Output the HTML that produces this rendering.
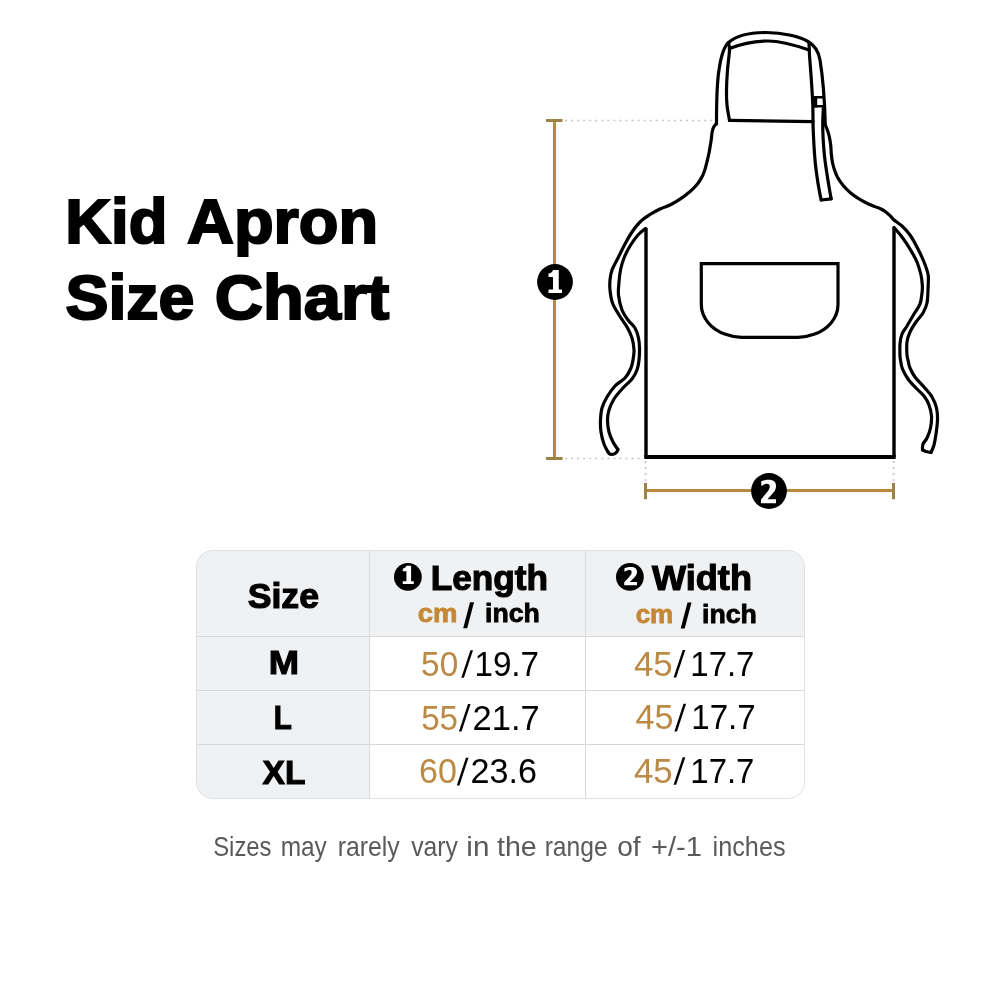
<!DOCTYPE html>
<html>
<head>
<meta charset="utf-8">
<title>Kid Apron Size Chart</title>
<style>
  html, body { margin: 0; padding: 0; background: #ffffff; }
  body { width: 1000px; height: 1000px; overflow: hidden; font-family: "Liberation Sans", sans-serif; }
  svg { display: block; position: absolute; left: 0; top: 0; will-change: transform; }
  text { font-family: "Liberation Sans", sans-serif; }
  .b { font-weight: bold; }
  .gold { fill: #b7893f; }
</style>
</head>
<body>
<svg width="1000" height="1000" viewBox="0 0 1000 1000">
  <rect width="1000" height="1000" fill="#ffffff"/>

  <!-- ===== Title ===== -->
  <g id="title" fill="#000" class="b">
      <text x="65.32" y="243.36" font-size="63.3" stroke="#000" stroke-width="2.08" stroke-linejoin="miter" textLength="102.07" lengthAdjust="spacingAndGlyphs">Kid</text>
      <text x="187" y="243.36" font-size="63.3" stroke="#000" stroke-width="2.08" stroke-linejoin="miter" textLength="191.21" lengthAdjust="spacingAndGlyphs">Apron</text>
      <text x="65.41" y="319.36" font-size="63.3" stroke="#000" stroke-width="2.08" stroke-linejoin="miter" textLength="128.95" lengthAdjust="spacingAndGlyphs">Size</text>
      <text x="214.81" y="319.36" font-size="63.3" stroke="#000" stroke-width="2.08" stroke-linejoin="miter" textLength="174.43" lengthAdjust="spacingAndGlyphs">Chart</text>
  </g>

  <!-- ===== Measurement guides ===== -->
  <g id="guides" fill="none">
    <g stroke="#c6c6cb" stroke-width="1.7" stroke-dasharray="2 4.05">
      <path d="M565 120.5 H713"/>
      <path d="M565 458.5 H643"/>
      <path d="M645.5 461 V483"/>
      <path d="M893.5 461 V483"/>
    </g>
    <g stroke="#b7893f" stroke-width="3">
      <path d="M554.5 120 V458"/>
      <path d="M546 120.5 H562.5" stroke="#9c8246"/>
      <path d="M546 458.5 H562.5" stroke="#9c8246"/>
      <path d="M645.5 490.5 H893.5" stroke-width="2.8"/>
      <path d="M645.5 483 V499.2" stroke="#9c8246"/>
      <path d="M893.5 483 V499.2" stroke="#9c8246"/>
    </g>
  </g>

  <!-- ===== Apron drawing ===== -->
  <g id="apron" fill="none" stroke="#000" stroke-width="3.2" stroke-linejoin="round" stroke-linecap="round">
    <path d="M716.5 124 C716.5 100 717 82 719 70 C721 56 723.5 47 728.5 42.5 C736 36 750 32.5 766 32.5 C784 32.5 800 37 808 41.5 C815 45.5 818.5 51 820 60 C822.5 75 824.5 95 825.3 125"/>
    <path d="M729.5 120.5 C729.1 117.9 727.5 110.1 727 105 C726.5 99.9 726.4 95.8 726.5 90 C726.6 84.2 727 76.7 727.5 70 C728 63.3 729.3 54.6 729.5 50 C729.7 45.4 728.7 43.8 728.5 42.5"/>
    <path d="M729.5 48.5 C742 43.5 754 41 768 41 C782 41 796 45.5 809 50"/>
    <path d="M809 43 C809.1 45 809.2 49.7 809.5 55 C809.8 60.3 810.6 69.2 811 75 C811.4 80.8 811.7 85 812 90 C812.3 95 812.6 100 812.8 105 C813 110 812.9 115.8 813 120 C813.1 124.2 813 125.7 813.2 130 C813.4 134.3 813.7 140.7 814 146 C814.3 151.3 814.7 156.7 815.2 162 C815.7 167.3 816.5 172.9 817.2 178 C817.9 183.1 818.9 188.7 819.6 192.4 C820.3 196.1 820.9 198.7 821.2 200"/>
    <path d="M823.4 108 C823.3 110 822.9 116.3 822.8 120 C822.7 123.7 822.7 125.7 822.8 130 C822.9 134.3 823.2 140.7 823.6 146 C824 151.3 824.5 156.7 825.2 162 C825.9 167.3 826.8 172.9 827.6 178 C828.4 183.1 829.4 188.9 830 192.4 C830.6 195.9 831 197.7 831.2 198.8"/>
    <path d="M821.2 200 L831.2 198.8"/>
    <path d="M729.5 120.4 L813 121.6"/>
    <!-- buckle -->
    <path d="M814.5 97.3 H823.6 M814.5 106.3 H823.8" stroke-width="2.4" stroke-linecap="butt"/>
    <path d="M815.4 96.1 V107.5" stroke-width="3.6" stroke-linecap="butt"/>
    <path d="M716.4 123.5 C715.9 124.1 714.3 125.7 713.6 127.2 C712.9 128.8 712.4 130.7 712 132.8 C711.6 134.9 711.7 136.8 711.2 140 C710.7 143.2 709.9 148.3 709.2 152 C708.5 155.7 707.6 159.2 706.8 162.4 C706 165.6 705.3 168.7 704.4 171.2 C703.5 173.7 702.9 175.3 701.6 177.6 C700.3 179.9 698.7 182.5 696.8 184.8 C694.9 187.1 693.2 188.8 690.4 191.2 C687.6 193.6 683.4 196.9 680 199.2 C676.6 201.5 673.3 203.4 670 205 C666.7 206.6 663.3 207.4 660 209 C656.7 210.6 653.3 212.3 650 214.5 C646.7 216.7 643 219.1 640 222 C637 224.9 634.5 228.3 632 232 C629.5 235.7 627.3 239.7 625 244 C622.7 248.3 620.2 253.7 618 258 C615.8 262.3 613.3 266.3 612 270 C610.7 273.7 610.3 276.7 610 280 C609.7 283.3 609.6 286.2 610 290 C610.4 293.8 611 298.8 612.5 303 C614 307.2 616.6 311 619 315 C621.4 319 624.8 323.2 627 327 C629.2 330.8 630.8 334.2 632 338 C633.2 341.8 633.8 346.3 634 350 C634.2 353.7 633.5 357 633 360 C632.5 363 632.3 365 631 368 C629.7 371 627.7 375 625 378 C622.3 381 618 382.8 615 386 C612 389.2 609.2 393.3 607 397 C604.8 400.7 603.1 404.2 602 408 C600.9 411.8 600.7 416 600.5 420 C600.3 424 600.4 428 601 432 C601.6 436 602.8 440.7 604 444 C605.2 447.3 607.3 450.7 608 452"/>
    <path d="M645.5 228.5 C644.2 229.6 640.6 232.1 638 235 C635.4 237.9 632.3 242.2 630 246 C627.7 249.8 625.6 254 624 258 C622.4 262 621.3 266 620.5 270 C619.7 274 619.3 277.8 619 282 C618.7 286.2 618 290.3 618.5 295 C619 299.7 620.4 305.8 622 310 C623.6 314.2 625.8 317 628 320 C630.2 323 633.2 325 635 328 C636.8 331 637.8 334.7 638.5 338 C639.2 341.3 639.4 344.3 639.5 348 C639.6 351.7 639.4 356.3 639 360 C638.6 363.7 638.2 366.8 637 370 C635.8 373.2 634.3 376 632 379 C629.7 382 626 384.7 623 388 C620 391.3 616.3 395.3 614 399 C611.7 402.7 610.1 406.5 609 410 C607.9 413.5 607.5 416.3 607.5 420 C607.5 423.7 608.1 428.3 609 432 C609.9 435.7 611.6 439.2 613 442 C614.4 444.8 616.8 447.8 617.5 449"/>
    <path d="M608 452 C608.2 452.3 608.9 453.4 609.5 453.8 C610.1 454.2 610.8 454.3 611.5 454.3 C612.2 454.3 613.2 454.3 614 454 C614.8 453.7 615.8 453.1 616.5 452.3 C617.2 451.6 617.8 450.1 618 449.5 C618.2 448.9 617.6 449.1 617.5 449"/>
    <path d="M825.3 125 C825.6 125.8 826.5 127.5 827.2 129.5 C827.9 131.5 828.8 134.2 829.4 137 C830 139.8 830.5 143.2 830.8 146 C831.1 148.8 831 151.3 831.3 154 C831.6 156.7 831.9 159.3 832.4 162 C832.9 164.7 833.6 167.4 834.5 170 C835.4 172.6 836.3 175.2 837.8 177.8 C839.2 180.4 841.2 183.2 843.2 185.6 C845.2 188 847.5 190.2 849.8 192.2 C852.1 194.2 854.3 195.8 857 197.6 C859.7 199.3 863 201.2 866 202.7 C869 204.2 872.5 205.5 875 206.6 C877.5 207.7 879.2 208.1 881 209 C882.8 209.9 884.3 210.9 885.8 212 C887.3 213.1 888.6 214.3 890 215.6 C891.4 216.9 892 218.3 894 220 C896 221.7 899.3 223.5 902 226 C904.7 228.5 907.3 231.2 910 235 C912.7 238.8 915.7 244.5 918 249 C920.3 253.5 922.3 257.8 924 262 C925.7 266.2 927.3 270.7 928 274 C928.7 277.3 928.3 279.3 928.3 282 C928.3 284.7 928.2 286.5 928 290 C927.8 293.5 927.8 299.2 927 303 C926.2 306.8 924.8 309.8 923 313 C921.2 316.2 918.2 318.8 916 322 C913.8 325.2 911.5 328.7 910 332 C908.5 335.3 907.5 338.2 907 342 C906.5 345.8 906.8 352 907 355 C907.2 358 907.5 357.8 908 360 C908.5 362.2 908.8 365.2 910 368 C911.2 370.8 912.7 373.8 915 377 C917.3 380.2 921.2 383.7 924 387 C926.8 390.3 929.9 393.5 932 397 C934.1 400.5 935.6 404.2 936.5 408 C937.4 411.8 937.6 415.7 937.5 420 C937.4 424.3 936.6 429.8 936 434 C935.4 438.2 934.8 441.9 934 445 C933.2 448.1 931.5 451.2 931 452.5"/>
    <path d="M894 227.5 C895.3 229.1 899.3 233.4 902 237 C904.7 240.6 907.5 244.8 910 249 C912.5 253.2 915.2 257.7 917 262 C918.8 266.3 920.1 271.2 921 275 C921.9 278.8 922.1 282 922.3 285 C922.5 288 922.4 289.8 922 293 C921.6 296.2 921.3 300.5 920 304 C918.7 307.5 916.2 310.3 914 314 C911.8 317.7 909 322.7 907 326 C905 329.3 903.2 331 902 334 C900.8 337 900.3 340.3 900 344 C899.7 347.7 899.9 353.3 900 356 C900.1 358.7 900.1 357.8 900.5 360 C900.9 362.2 901.2 365.8 902.5 369 C903.8 372.2 905.8 375.8 908 379 C910.2 382.2 913.3 385.2 916 388 C918.7 390.8 921.8 393.2 924 396 C926.2 398.8 927.8 401.7 929 405 C930.2 408.3 931.2 412.2 931.5 416 C931.8 419.8 931.2 424.3 930.5 428 C929.8 431.7 928.2 435.3 927 438 C925.8 440.7 923.8 442 923 444 C922.2 446 922.6 449 922.5 450"/>
    <path d="M922.5 450 L926 451.5 L931 452.5"/>
    <!-- body -->
    <path d="M646 228 V457 M894 227.5 V457" stroke-width="3.4" stroke-linecap="butt"/>
    <path d="M644.3 457 H895.7" stroke-width="4" stroke-linecap="butt"/>
    <!-- pocket -->
    <path d="M701.3 263.7 H838 V304.5 C838 318 828 329.5 814 334.3 C808 336.5 803 337.3 798 337.3 H741.5 C736.5 337.3 731.5 336.5 725.5 334.3 C711.5 329.5 701.3 318 701.3 304.5 Z" stroke-linejoin="miter"/>
  </g>

  <!-- ===== Numbered circles on drawing ===== -->
  <g id="badges">
    <circle cx="555" cy="282" r="17.9" fill="#000"/>
    <path d="M553 270 H558.75 V289.5 H562 V293 H548.5 V289.5 H553 V277 H548.5 V273.6 C550.5 273.4 552.3 272.4 553 270 Z" fill="#fff"/>
    <circle cx="769" cy="491" r="17.9" fill="#000"/>
    <path d="M761 503.25 H776 V499.25 H767.5 L773.5 492.5 C775.5 490 776 488 776 486 C776 482 774 479.75 768.5 479.75 C765.5 479.75 763 480.5 761.25 481.5 V486 C763.5 484.5 765.5 483.75 767 483.75 C769 483.75 769.75 484.8 769.75 486.5 C769.75 488.5 768.5 490.5 766 493.5 L761 499.5 Z" fill="#fff"/>
  </g>

  <!-- ===== Table ===== -->
  <g id="table">
    <rect x="196.5" y="550.5" width="608" height="248" rx="16" ry="16" fill="#eff1f3"/>
    <path d="M370 637 H804.5 V782.5 A16 16 0 0 1 788.5 798.5 H370 Z" fill="#ffffff"/>
    <g fill="none">
      <rect x="196.5" y="550.5" width="608" height="248" rx="16" ry="16" stroke="#e0e1e3" stroke-width="1"/>
      <path d="M369.5 551 V798 M585.5 551 V798" stroke="#d8d9db" stroke-width="1"/>
      <path d="M197 636.5 H804 M197 690.5 H804 M197 744.5 H804" stroke="#d8d9db" stroke-width="1"/>
    </g>
    <g class="b" fill="#000">
      <text x="247.75" y="607.61" font-size="35" stroke="#000" stroke-width="1.19" stroke-linejoin="miter" textLength="71.18" lengthAdjust="spacingAndGlyphs">Size</text>
      <text x="268.89" y="673.66" font-size="32.4" stroke="#000" stroke-width="1.08" stroke-linejoin="miter" textLength="30.27" lengthAdjust="spacingAndGlyphs">M</text>
      <text x="273.8" y="728.66" font-size="32.4" stroke="#000" stroke-width="1.08" stroke-linejoin="miter" textLength="18.11" lengthAdjust="spacingAndGlyphs">L</text>
      <text x="262.57" y="783.86" font-size="32.4" stroke="#000" stroke-width="1.08" stroke-linejoin="miter" textLength="42.87" lengthAdjust="spacingAndGlyphs">XL</text>
      <text x="430.77" y="590.03" font-size="34.4" stroke="#000" stroke-width="1.13" stroke-linejoin="miter" textLength="117.26" lengthAdjust="spacingAndGlyphs">Length</text>
      <text x="652.04" y="590.03" font-size="34.4" stroke="#000" stroke-width="1.13" stroke-linejoin="miter" textLength="99.92" lengthAdjust="spacingAndGlyphs">Width</text>
      <text x="417.79" y="622.38" font-size="26.3" fill="#c58836" stroke="#c58836" stroke-width="0.84" stroke-linejoin="miter" textLength="39.73" lengthAdjust="spacingAndGlyphs">cm</text>
      <text x="485.04" y="622.38" font-size="26.3" stroke="#000" stroke-width="0.84" stroke-linejoin="miter" textLength="54.77" lengthAdjust="spacingAndGlyphs">inch</text>
      <text x="635.65" y="622.58" font-size="26.3" fill="#c58836" stroke="#c58836" stroke-width="0.84" stroke-linejoin="miter" textLength="37.63" lengthAdjust="spacingAndGlyphs">cm</text>
      <text x="702.04" y="622.58" font-size="26.3" stroke="#000" stroke-width="0.84" stroke-linejoin="miter" textLength="54.78" lengthAdjust="spacingAndGlyphs">inch</text>
    </g>
    <!-- header badges -->
    <circle cx="407.9" cy="576.9" r="13.9" fill="#000"/>
    <path transform="translate(408.25 574.9) scale(0.815 0.793) translate(-555.25 -281.5)" d="M553 270 H558.75 V289.5 H562 V293 H548.5 V289.5 H553 V277 H548.5 V273.6 C550.5 273.4 552.3 272.4 553 270 Z" fill="#fff"/>
    <circle cx="629.9" cy="576.9" r="13.9" fill="#000"/>
    <path transform="translate(630.6 576.1) scale(0.85 0.777) translate(-768.5 -491.5)" d="M761 503.25 H776 V499.25 H767.5 L773.5 492.5 C775.5 490 776 488 776 486 C776 482 774 479.75 768.5 479.75 C765.5 479.75 763 480.5 761.25 481.5 V486 C763.5 484.5 765.5 483.75 767 483.75 C769 483.75 769.75 484.8 769.75 486.5 C769.75 488.5 768.5 490.5 766 493.5 L761 499.5 Z" fill="#fff"/>
    <!-- slashes -->
    <g fill="#000">
      <path d="M463.2 628.2 H467.2 L474 602.2 H470 Z"/>
      <path d="M680.7 628.4 H684.7 L691.5 602.4 H687.5 Z"/>
      <path id="sl" d="M461.3 677.8 H463.9 L473 650.2 H470.4 Z"/>
      <path transform="translate(-2.4 53.8)" d="M461.3 677.8 H463.9 L473 650.2 H470.4 Z"/>
      <path transform="translate(-4.5 107.6)" d="M461.3 677.8 H463.9 L473 650.2 H470.4 Z"/>
      <path transform="translate(212.3 -0.2)" d="M461.3 677.8 H463.9 L473 650.2 H470.4 Z"/>
      <path transform="translate(213.1 53.6)" d="M461.3 677.8 H463.9 L473 650.2 H470.4 Z"/>
      <path transform="translate(212.3 107)" d="M461.3 677.8 H463.9 L473 650.2 H470.4 Z"/>
    </g>
    <g fill="#000">
      <text x="421.1" y="676" font-size="34.5" fill="#bb8a45" textLength="37.08" lengthAdjust="spacingAndGlyphs">50</text>
      <text x="474.42" y="676" font-size="34.5" textLength="64.64" lengthAdjust="spacingAndGlyphs">19.7</text>
      <text x="421.13" y="729.6" font-size="34.5" fill="#bb8a45" textLength="36.86" lengthAdjust="spacingAndGlyphs">55</text>
      <text x="472.51" y="729.6" font-size="34.5" textLength="67.17" lengthAdjust="spacingAndGlyphs">21.7</text>
      <text x="419.11" y="783.4" font-size="34.5" fill="#bb8a45" textLength="37.84" lengthAdjust="spacingAndGlyphs">60</text>
      <text x="470.52" y="783.4" font-size="34.5" textLength="66.47" lengthAdjust="spacingAndGlyphs">23.6</text>
      <text x="633.93" y="675.6" font-size="34.5" fill="#bb8a45" textLength="38.87" lengthAdjust="spacingAndGlyphs">45</text>
      <text x="690.31" y="675.6" font-size="34.5" textLength="64.16" lengthAdjust="spacingAndGlyphs">17.7</text>
      <text x="635.47" y="729.4" font-size="34.5" fill="#bb8a45" textLength="37.96" lengthAdjust="spacingAndGlyphs">45</text>
      <text x="691.25" y="729.4" font-size="34.5" textLength="64.48" lengthAdjust="spacingAndGlyphs">17.7</text>
      <text x="633.93" y="782.8" font-size="34.5" fill="#bb8a45" textLength="38.87" lengthAdjust="spacingAndGlyphs">45</text>
      <text x="690.31" y="782.8" font-size="34.5" textLength="64.16" lengthAdjust="spacingAndGlyphs">17.7</text>
    </g>
  </g>

  <!-- ===== Footnote ===== -->
  <g id="foot">
      <text x="213.15" y="856.4" font-size="27.5" fill="#5a5a5a" textLength="58.41" lengthAdjust="spacingAndGlyphs">Sizes</text>
      <text x="280.66" y="856.4" font-size="27.5" fill="#5a5a5a" textLength="46.19" lengthAdjust="spacingAndGlyphs">may</text>
      <text x="337.64" y="856.4" font-size="27.5" fill="#5a5a5a" textLength="62.14" lengthAdjust="spacingAndGlyphs">rarely</text>
      <text x="411.15" y="856.4" font-size="27.5" fill="#5a5a5a" textLength="46.62" lengthAdjust="spacingAndGlyphs">vary</text>
      <text x="466.33" y="856.4" font-size="27.5" fill="#5a5a5a" textLength="23.07" lengthAdjust="spacingAndGlyphs">in</text>
      <text x="497.04" y="856.4" font-size="27.5" fill="#5a5a5a" textLength="39.74" lengthAdjust="spacingAndGlyphs">the</text>
      <text x="544.66" y="856.4" font-size="27.5" fill="#5a5a5a" textLength="63.08" lengthAdjust="spacingAndGlyphs">range</text>
      <text x="617.16" y="856.4" font-size="27.5" fill="#5a5a5a" textLength="23.44" lengthAdjust="spacingAndGlyphs">of</text>
      <text x="651.04" y="856.4" font-size="27.5" fill="#5a5a5a" textLength="50.91" lengthAdjust="spacingAndGlyphs">+/-1</text>
      <text x="712.55" y="856.4" font-size="27.5" fill="#5a5a5a" textLength="73.01" lengthAdjust="spacingAndGlyphs">inches</text>
  </g>
</svg>
</body>
</html>
